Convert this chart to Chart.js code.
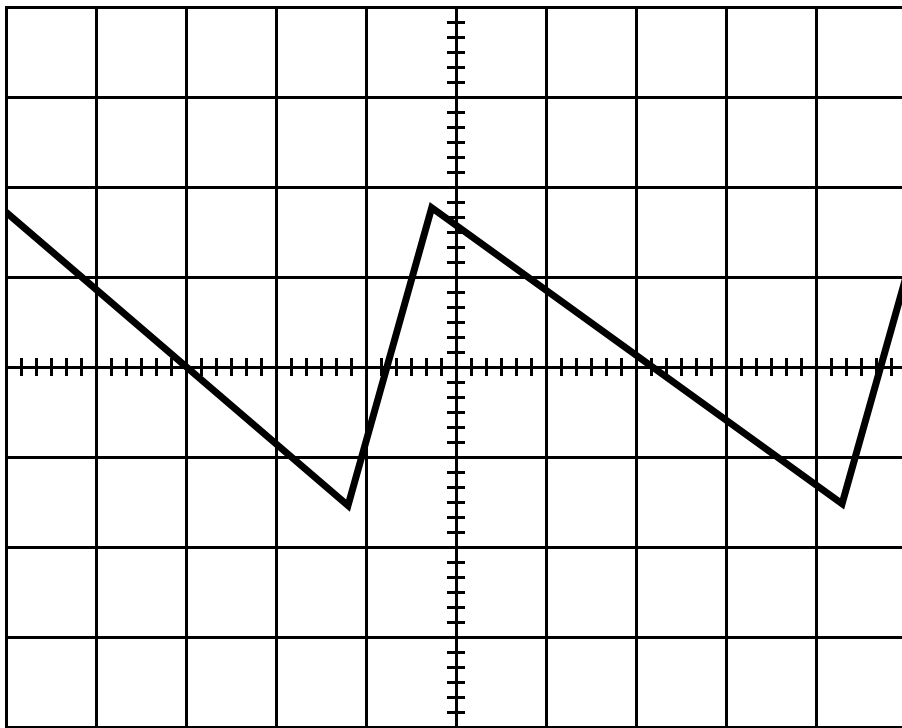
<!DOCTYPE html>
<html>
<head>
<meta charset="utf-8">
<script src="https://cdn.jsdelivr.net/npm/chart.js@4/dist/chart.umd.min.js"></script>
<style>
html,body{margin:0;padding:0;background:#fff;overflow:hidden;width:902px;height:728px;}
#wrap{position:absolute;left:0;top:0;width:912px;height:728px;}
</style>
</head>
<body>
<div id="wrap"><canvas id="c" width="912" height="728"></canvas></div>
<script>
// Screen divisions (oscilloscope graticule)
const xRange = [-5, 5];
const yRange = [-4, 4];
const minorPerDiv = 6;
// Trace vertices (in divisions)
const traceX = [-5, -1.2, -0.27, 4.29, 5];
const traceY = [1.72, -1.54, 1.77, -1.52, 1.0];

const points = traceX.map((x, i) => ({x: x, y: traceY[i]}));

const minorTicks = {
  id: 'minorTicks',
  beforeDatasetsDraw(chart) {
    const ctx = chart.ctx;
    const xs = chart.scales.x, ys = chart.scales.y;
    const x0 = xs.getPixelForValue(0), y0 = ys.getPixelForValue(0);
    const half = 9;
    ctx.save();
    ctx.strokeStyle = '#000';
    ctx.lineWidth = 3;
    ctx.beginPath();
    for (let v = xRange[0]; v <= xRange[1] + 1e-9; v += 1 / minorPerDiv) {
      const r = Math.round(v * minorPerDiv);
      if (r % minorPerDiv === 0) continue;
      const px = Math.round(xs.getPixelForValue(v)) + 0.5;
      ctx.moveTo(px, y0 - half);
      ctx.lineTo(px, y0 + half);
    }
    for (let v = yRange[0]; v <= yRange[1] + 1e-9; v += 1 / minorPerDiv) {
      const r = Math.round(v * minorPerDiv);
      if (r % minorPerDiv === 0) continue;
      const py = Math.round(ys.getPixelForValue(v)) + 0.5;
      ctx.moveTo(x0 - half, py);
      ctx.lineTo(x0 + half, py);
    }
    ctx.stroke();
    ctx.restore();
  }
};

new Chart(document.getElementById('c'), {
  type: 'line',
  data: {
    datasets: [{
      data: points,
      borderColor: '#000',
      borderWidth: 7,
      pointRadius: 0,
      tension: 0,
      borderJoinStyle: 'miter',
      fill: false
    }]
  },
  options: {
    responsive: false,
    animation: false,
    events: [],
    layout: {padding: {left: 6, top: 7, right: 6, bottom: 1}},
    plugins: {legend: {display: false}, tooltip: {enabled: false}},
    scales: {
      x: {
        type: 'linear', min: xRange[0], max: xRange[1],
        ticks: {display: false, stepSize: 1},
        grid: {color: '#000', lineWidth: 3, drawTicks: false},
        border: {display: true, color: '#000', width: 3}
      },
      y: {
        type: 'linear', min: yRange[0], max: yRange[1],
        ticks: {display: false, stepSize: 1},
        grid: {color: '#000', lineWidth: 3, drawTicks: false},
        border: {display: true, color: '#000', width: 3}
      }
    }
  },
  plugins: [minorTicks]
});
</script>
</body>
</html>
